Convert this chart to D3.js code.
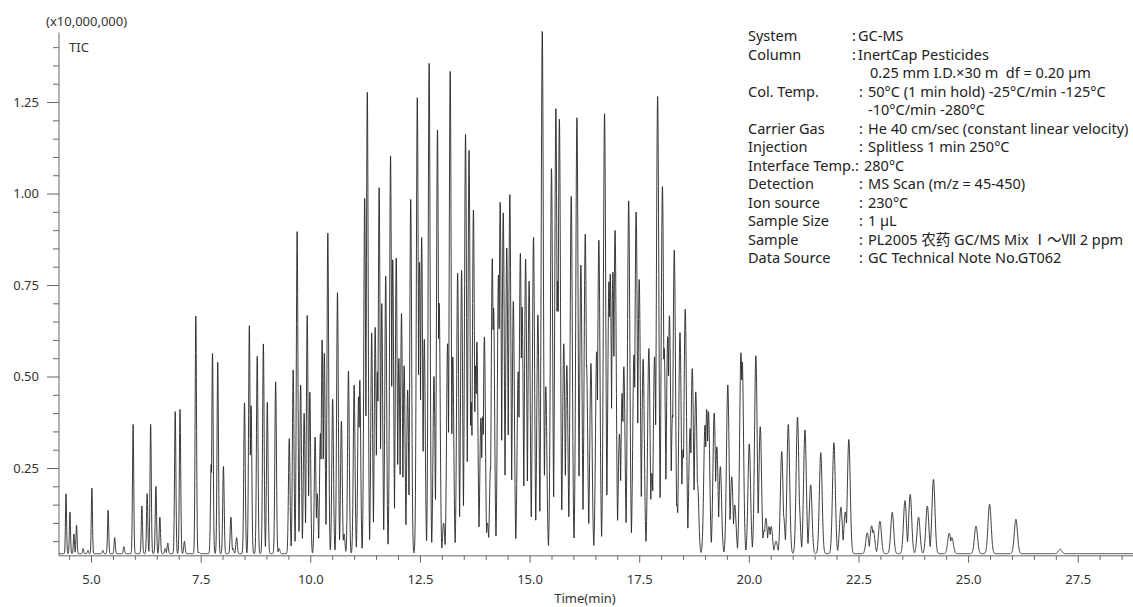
<!DOCTYPE html>
<html><head><meta charset="utf-8">
<script src="https://cdn.jsdelivr.net/npm/d3@7"></script>
<style>
html,body{margin:0;padding:0;background:#fff;}
text{font-family:"Noto Sans","Noto Sans CJK SC",sans-serif;white-space:pre;}
</style></head>
<body>
<svg id="chart" width="1133" height="607"></svg>
<script>
// ---- data ----
const peakTimes = [4.43,4.52,4.61,4.67,4.82,4.93,5.02,5.27,5.39,5.54,5.75,5.96,6.16,6.28,6.36,6.48,6.57,6.69,6.75,6.92,7.03,7.13,7.39,7.46,7.74,7.77,7.89,8.02,8.19,8.24,8.32,8.50,8.61,8.65,8.79,8.93,9.02,9.21,9.29,9.52,9.61,9.70,9.78,9.86,9.93,9.99,10.11,10.16,10.23,10.27,10.32,10.40,10.51,10.62,10.71,10.77,10.87,11.00,11.10,11.13,11.24,11.30,11.40,11.48,11.53,11.57,11.63,11.72,11.83,11.88,11.96,12.02,12.08,12.14,12.22,12.29,12.44,12.49,12.54,12.60,12.71,12.82,12.90,12.94,13.04,13.13,13.19,13.25,13.36,13.45,13.54,13.62,13.67,13.72,13.77,13.80,13.89,13.93,13.97,14.04,14.11,14.15,14.18,14.29,14.33,14.40,14.48,14.55,14.63,14.74,14.79,14.83,14.91,14.99,15.09,15.19,15.29,15.37,15.50,15.60,15.64,15.68,15.78,15.85,15.95,16.08,16.17,16.27,16.30,16.40,16.53,16.58,16.71,16.81,16.84,16.90,16.95,17.05,17.11,17.15,17.26,17.38,17.43,17.50,17.59,17.72,17.79,17.85,17.92,18.03,18.07,18.15,18.19,18.26,18.30,18.36,18.43,18.50,18.55,18.66,18.71,18.79,18.83,19.00,19.04,19.08,19.21,19.27,19.35,19.52,19.61,19.68,19.82,19.85,20.01,20.16,20.26,20.35,20.39,20.46,20.51,20.62,20.75,20.79,20.90,21.11,21.14,21.28,21.41,21.64,21.94,22.10,22.20,22.28,22.70,22.80,22.84,22.99,23.27,23.56,23.68,23.87,24.07,24.21,24.57,24.63,25.18,25.49,26.09,27.10];
const peakHeights = [0.18,0.13,0.07,0.094,0.03,0.025,0.195,0.025,0.135,0.06,0.035,0.37,0.146,0.18,0.37,0.20,0.116,0.03,0.045,0.405,0.41,0.05,0.665,0.02,0.26,0.564,0.54,0.254,0.116,0.03,0.06,0.428,0.64,0.42,0.556,0.59,0.43,0.486,0.03,0.33,0.518,0.896,0.477,0.40,0.668,0.458,0.335,0.18,0.345,0.60,0.564,0.893,0.438,0.73,0.378,0.07,0.515,0.477,0.445,0.49,0.988,1.278,0.62,0.635,0.513,1.017,0.70,0.775,1.103,0.82,0.825,0.55,0.673,0.53,0.463,0.985,1.263,0.812,0.881,0.602,1.357,0.50,1.175,0.70,0.10,0.59,1.335,0.554,0.782,0.79,1.162,1.119,0.43,0.955,0.53,0.595,0.387,0.39,0.609,0.10,0.25,0.823,0.688,0.777,0.977,0.948,0.852,0.998,0.706,0.513,0.837,0.69,0.821,0.761,0.881,0.668,1.444,0.472,1.069,1.233,0.761,1.204,0.59,0.53,0.993,1.208,0.805,0.889,0.53,0.536,0.568,0.873,1.219,0.759,0.78,0.785,0.90,0.343,0.454,0.527,0.98,0.559,0.95,0.765,0.547,0.577,0.236,0.554,1.265,1.02,0.577,0.609,0.666,0.395,0.846,0.15,0.62,0.30,0.684,0.358,0.522,0.458,0.208,0.367,0.41,0.404,0.40,0.308,0.254,0.477,0.226,0.149,0.565,0.54,0.316,0.557,0.363,0.08,0.113,0.09,0.09,0.05,0.295,0.12,0.369,0.389,0.17,0.354,0.204,0.292,0.319,0.143,0.13,0.328,0.073,0.092,0.08,0.105,0.129,0.161,0.178,0.116,0.146,0.219,0.072,0.06,0.0915,0.151,0.11,0.028];
const baselineLevel = 0.016;

const xMajorTicks = [5.0,7.5,10.0,12.5,15.0,17.5,20.0,22.5,25.0,27.5];
const xTickLabels = ["5.0","7.5","10.0","12.5","15.0","17.5","20.0","22.5","25.0","27.5"];
const yMajorTicks = [0.25,0.50,0.75,1.00,1.25];
const yTickLabels = ["0.25","0.50","0.75","1.00","1.25"];

const infoLabels = ["System","Column","","Col. Temp.","","Carrier Gas","Injection","Interface Temp.:","Detection","Ion source","Sample Size","Sample","Data Source"];
const infoValues = ["GC-MS","InertCap Pesticides","0.25 mm I.D.×30 m  df = 0.20 µm","50°C (1 min hold) -25°C/min -125°C","-10°C/min -280°C","He 40 cm/sec (constant linear velocity)","Splitless 1 min 250°C","280°C","MS Scan (m/z = 45-450)","230°C","1 µL","PL2005 农药 GC/MS Mix Ⅰ～Ⅶ 2 ppm","GC Technical Note No.GT062"];

(function(){
// ---- layout ----
const svg = d3.select("#chart");
const pLeft = 59, pRight = 1133, pTop = 32.5, pBottom = 555.84;
const x = d3.scaleLinear().domain([4.27, 28.76]).range([pLeft, pRight]);
const y = d3.scaleLinear().domain([0.01, 1.44]).range([pBottom, pTop]);

// ---- trace built from the peak table ----
function peakWidth(t){ return 0.013 + 0.0011*(t-5); }
const grid = d3.range(4.27, 28.76, 0.003);
const trace = grid.map(t => {
  let v = 0;
  for (let i = 0; i < peakTimes.length; i++) {
    const d = t - peakTimes[i];
    const s = peakWidth(peakTimes[i]);
    if (Math.abs(d) > 6*s) continue;
    const g = (peakHeights[i]-baselineLevel)*Math.exp(-0.5*(d/s)*(d/s));
    if (g > v) v = g;
  }
  return [t, baselineLevel + v];
});

svg.append("path")
  .datum(trace)
  .attr("fill","none")
  .attr("stroke","#262626")
  .attr("stroke-width",0.9)
  .attr("d", d3.line().x(d=>x(d[0])).y(d=>y(d[1])));

// ---- axes ----
const axisColor = "#666";
const yMinor = d3.range(0.05, 1.43, 0.05).filter(v => !yMajorTicks.some(m => Math.abs(m-v)<1e-6));
const gyMinor = svg.append("g").attr("transform",`translate(${pLeft},0)`)
  .call(d3.axisLeft(y).tickValues(yMinor).tickSize(6).tickFormat(""));
const gyMajor = svg.append("g").attr("transform",`translate(${pLeft},0)`)
  .call(d3.axisLeft(y).tickValues(yMajorTicks).tickSize(12).tickPadding(8)
    .tickFormat((d,i)=>yTickLabels[i]));

const xMinor = d3.range(4.5, 28.76, 0.5).filter(v => !xMajorTicks.some(m => Math.abs(m-v)<1e-6));
const gxMinor = svg.append("g").attr("transform",`translate(0,${pBottom})`)
  .call(d3.axisBottom(x).tickValues(xMinor).tickSize(4).tickFormat(""));
const gxMajor = svg.append("g").attr("transform",`translate(0,${pBottom})`)
  .call(d3.axisBottom(x).tickValues(xMajorTicks).tickSize(7).tickPadding(12)
    .tickFormat((d,i)=>xTickLabels[i]));

[gyMinor,gyMajor,gxMinor,gxMajor].forEach(g=>{
  g.selectAll("path.domain").attr("stroke",axisColor).attr("stroke-width",1);
  g.selectAll(".tick line").attr("stroke",axisColor).attr("stroke-width",1);
  g.selectAll(".tick text").attr("fill","#333").style("font-size","13px")
    .style("font-family",'"Noto Sans","Noto Sans CJK SC",sans-serif');
});
gyMinor.select("path.domain").remove();
gxMinor.select("path.domain").remove();
gyMajor.select("path.domain").attr("d",`M0,${pBottom}V${pTop}`);
gxMajor.select("path.domain").attr("d",`M${pLeft},0H${pRight}`);

// ---- axis titles ----
svg.append("text").attr("x",46).attr("y",26).attr("fill","#333")
  .style("font-size","13px").text("(x10,000,000)");
svg.append("text").attr("x",69).attr("y",52).attr("fill","#333")
  .style("font-size","13px").text("TIC");
svg.append("text").attr("x",585).attr("y",603).attr("text-anchor","middle").attr("fill","#333")
  .style("font-size","13px").text("Time(min)");

// ---- conditions block ----
const info = svg.append("g").attr("fill","#222").style("font-size","14.5px");
infoLabels.forEach((lab,i)=>{
  const cy = 36 + i*18.5 + 5;
  if (lab) info.append("text").attr("x",748).attr("y",cy).text(lab);
  let colonX = null, valX;
  if (i===0 || i===1) { colonX = 852; valX = 858; }
  else if (lab === "Interface Temp.:") { valX = 864; }
  else if (lab === "") { valX = (i===2) ? 870 : 868; }
  else { colonX = 859; valX = 868; }
  if (colonX !== null) info.append("text").attr("x",colonX).attr("y",cy).text(":");
  info.append("text").attr("x",valX).attr("y",cy).text(infoValues[i]);
});
})();
</script>
</body></html>
